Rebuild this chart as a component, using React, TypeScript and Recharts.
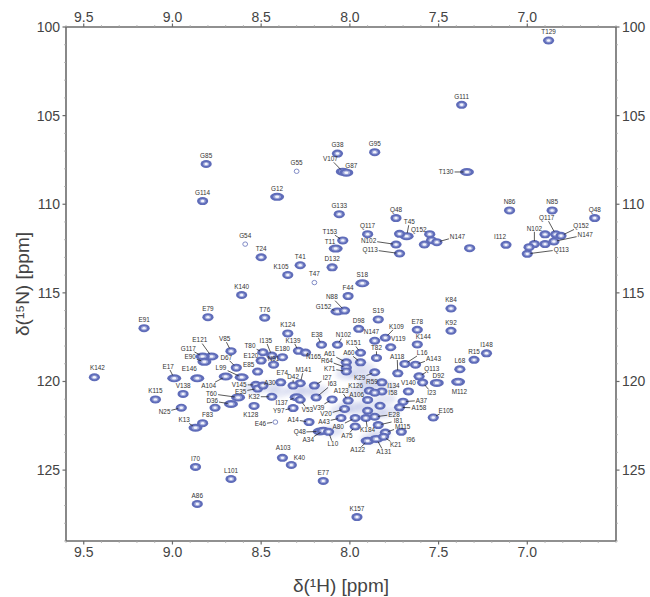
import * as React from "react";
import { ScatterChart, Scatter, XAxis, YAxis } from "recharts";

type Peak = [string, number, number];

const xMajor = [9.5, 9, 8.5, 8, 7.5, 7];
const xTicks = [9.6, 9.5, 9.4, 9.3, 9.2, 9.1, 9, 8.9, 8.8, 8.7, 8.6, 8.5, 8.4, 8.3, 8.2, 8.1, 8, 7.9, 7.8, 7.7, 7.6, 7.5, 7.4, 7.3, 7.2, 7.1, 7, 6.9, 6.8, 6.7, 6.6, 6.5];
const yMajor = [100, 105, 110, 115, 120, 125];
const yTicks = [100, 101, 102, 103, 104, 105, 106, 107, 108, 109, 110, 111, 112, 113, 114, 115, 116, 117, 118, 119, 120, 121, 122, 123, 124, 125, 126, 127, 128, 129];

// [assignment, 1H ppm, 15N ppm]; "#x" tells apart repeated names, "?" has no label
const upperPeaks: Peak[] = [
  ["T129", 6.88, 100.76], ["G111", 7.37, 104.39], ["G85", 8.81, 107.73], ["G114", 8.83, 109.82],
  ["G38", 8.07, 107.14], ["G95", 7.86, 107.06], ["G55", 8.3, 108.14], ["V107", 8.04, 108.16],
  ["G87", 8.02, 108.22], ["T130", 7.34, 108.18], ["G12", 8.41, 109.58], ["G133", 8.06, 110.56],
  ["Q48#a", 7.74, 110.78], ["T45", 7.68, 111.8], ["?1", 7.72, 111.67], ["Q117#a", 7.9, 111.69],
  ["Q152#a", 7.55, 111.69], ["T153", 8.04, 112.04], ["T11", 8.08, 112.5], ["N102#a", 7.74, 112.27],
  ["Q113#a", 7.72, 112.78], ["?2", 7.54, 112.03], ["N147#a", 7.51, 112.14], ["?3", 7.58, 112.27],
  ["?4", 7.325, 112.48], ["G54", 8.59, 112.25], ["T24", 8.5, 112.99], ["T41", 8.28, 113.44],
  ["D132", 8.1, 113.56], ["K105", 8.35, 113.99], ["T47", 8.2, 114.42], ["S18", 7.93, 114.46],
  ["F44", 8.01, 115.18], ["K140", 8.61, 115.12],
];

const sidechainPeaks: Peak[] = [
  ["N86", 7.1, 110.35], ["N85", 6.86, 110.35], ["Q48#b", 6.62, 110.78], ["I112", 7.12, 112.29],
  ["N102#b", 6.96, 112.25], ["Q117#b", 6.84, 111.7], ["?5", 6.9, 111.7], ["Q152#b", 6.81, 111.78],
  ["N147#b", 6.85, 112.1], ["?6", 6.9, 112.25], ["?7", 6.99, 112.42], ["Q113#b", 7.0, 112.8],
];

const leftPeaks: Peak[] = [
  ["E91", 9.16, 116.99], ["E79", 8.8, 116.37], ["K142", 9.44, 119.76], ["E17", 8.99, 119.82],
  ["E146", 8.86, 119.82], ["K115", 9.096, 121.01], ["V138", 8.94, 120.7], ["N25", 8.95, 121.48],
  ["K13", 8.87, 122.61], ["F83", 8.83, 122.35], ["E121", 8.78, 118.59], ["G117", 8.83, 118.59],
  ["E90", 8.82, 118.89], ["V85", 8.67, 118.29], ["D67", 8.64, 119.22], ["A104", 8.7, 119.72],
  ["L99", 8.61, 119.76], ["V145", 8.53, 120.19], ["D36", 8.67, 121.27], ["T60", 8.63, 120.9],
  ["?8", 8.76, 121.48], ["E35", 8.52, 120.4], ["K32", 8.44, 120.86], ["K128", 8.54, 121.38],
  ["E85", 8.52, 119.44], ["T76", 8.48, 116.4], ["K124", 8.35, 117.29], ["K139", 8.29, 118.27],
  ["N165", 8.25, 118.37], ["T80", 8.49, 118.35], ["I135", 8.44, 118.54], ["E120", 8.5, 118.82],
  ["E180", 8.38, 118.63], ["N91", 8.43, 119.05], ["M141", 8.28, 120.1], ["E74", 8.39, 120.05],
  ["D42", 8.32, 120.23], ["A30", 8.49, 120.23], ["I137", 8.3, 120.89], ["V53", 8.28, 121.03],
  ["Y97", 8.32, 121.5], ["E46", 8.42, 122.29],
];

const centralPeaks: Peak[] = [
  ["G152", 8.07, 116.05], ["N88", 8.03, 116.0], ["D98", 7.95, 117.03], ["E38", 8.16, 117.93],
  ["N102#c", 8.07, 117.93], ["K151", 7.94, 118.38], ["A61", 8.02, 118.92], ["A60", 7.94, 118.92],
  ["R64", 8.02, 119.22], ["K71", 8.02, 119.43], ["I27", 8.2, 120.23], ["I63", 8.19, 120.9],
  ["A123", 8.01, 121.08], ["V39", 8.1, 121.01], ["V20", 8.03, 121.55], ["A43", 8.05, 122.06],
  ["A14", 8.23, 122.29], ["A80", 7.97, 122.06], ["A75", 7.97, 122.54], ["Q48#c", 8.17, 122.82],
  ["A34", 8.15, 122.78], ["L10", 8.12, 122.84], ["K184", 7.91, 122.06], ["A122", 7.9, 123.35],
  ["A131", 7.85, 123.24], ["K29", 7.86, 119.48], ["T82", 7.85, 118.67], ["S19", 7.84, 116.5],
  ["K109", 7.8, 117.53], ["N147#c", 7.86, 117.7], ["V119", 7.77, 118.07], ["I134", 7.82, 120.05],
  ["I58", 7.82, 120.56], ["R59", 7.89, 120.52], ["K126", 7.86, 120.63], ["A106", 7.9, 121.04],
  ["?9", 7.83, 121.37], ["?10", 7.9, 121.65], ["E28", 7.86, 121.99], ["I81", 7.84, 122.46],
  ["M115", 7.8, 122.88], ["K21", 7.81, 123.12],
];

const rightPeaks: Peak[] = [
  ["E78", 7.62, 117.08], ["K92", 7.43, 117.14], ["K84", 7.43, 115.88], ["K144", 7.62, 117.91],
  ["I148", 7.23, 118.41], ["R15", 7.3, 118.78], ["L68", 7.38, 119.31], ["A118", 7.73, 119.54],
  ["L16", 7.69, 119.01], ["A143", 7.63, 119.05], ["Q113#c", 7.61, 119.71], ["I23", 7.59, 120.06],
  ["D92", 7.51, 120.08], ["M112", 7.39, 120.02], ["V140", 7.67, 120.56], ["A37", 7.7, 121.14],
  ["A158", 7.72, 121.46], ["E105", 7.53, 122.03], ["I96", 7.71, 122.84],
];

const lowerPeaks: Peak[] = [
  ["A103", 8.38, 124.31], ["K40", 8.33, 124.71], ["I70", 8.87, 124.82], ["L101", 8.67, 125.5],
  ["A86", 8.86, 126.91], ["E77", 8.15, 125.61], ["K157", 7.96, 127.65],
];

// unresolved intensity under the crowded middle of the spectrum
const overlapH = [8.02, 7.95, 7.92, 8.0, 7.88, 7.95, 7.9, 7.85, 7.95, 8.0, 7.8, 7.78, 8.3, 8.25, 8.4, 8.18, 8.45, 8.54, 8.1, 8.05, 7.83, 7.88, 7.9, 7.8];
const overlapN = [119.6, 119.6, 119.2, 118.9, 120.0, 120.6, 121.3, 121.8, 121.6, 121.4, 121.0, 121.7, 120.5, 120.6, 120.6, 120.5, 120.3, 120.4, 122.8, 121.6, 123.0, 123.2, 120.2, 120.3];

const broadPeaks = ["E146", "E17", "A104", "L99", "S18", "T11", "M112", "D92", "Q48#c", "A34", "G152", "T60", "D36", "G12", "T130", "I137", "T45", "E121", "G117", "E90", "V107", "G87", "A122", "A131", "K13"];
const weakPeaks = ["G55", "G54", "T47", "E46"];

// label position relative to its peak, in pixels: [dx, dy, leader line]
const labelLayout: Record<string, [number, number, boolean?]> = {
  K142: [3, -9], E17: [-6, -11.7, true], E146: [-8, -9.4], N25: [-16.7, 4.3, true], K13: [-11.3, -7.7, true],
  F83: [5, -8], E121: [-11.7, -16.3, true], G117: [-14.3, -8, true], E90: [-14.3, -4.6, true], V85: [-6.3, -12.4, true],
  D67: [-10, -10.3, true], L99: [-20.7, -9.7, true], A104: [-17, 9, true], V145: [-16.7, 0, true], E35: [-17, 3, true],
  T60: [-26.7, -3.7, true], D36: [-18.7, -3, true], K32: [-17.7, 0, true], K128: [-3.3, 8.4], E85: [-9, -7],
  T80: [-13, -6, true], E120: [-10.3, -5, true], N91: [0, -6], N165: [8, 4, true], K139: [-5.4, -10.3, true],
  I135: [-6, -15, true], G152: [-14, -5, true], E38: [-4.6, -10.3, true], "N102#c": [6, -9.6, true], K151: [-7, -9.6, true],
  A61: [-16.7, -8.4, true], A60: [-11.7, -9.4, true], R64: [-19.4, -7, true], K71: [-16.7, -2.7, true], M141: [3.3, -13.4, true],
  E74: [1.6, -9.4], D42: [0, -9, true], I27: [12.7, -7.7, true], I63: [16, -13.4, true], A30: [7, -3],
  A123: [-7, -10, true], V53: [7.3, 10, true], I137: [-15, 5.5, true], Y97: [-14.3, 3, true], V39: [-13.5, 8, true],
  V20: [-18.5, 5.3, true], A43: [-17, 3.8, true], A14: [-16, -2.6, true], A80: [-17, 8.4, true], A75: [-8.3, 9.3, true],
  "Q48#c": [-20, 0.6, true], A34: [-15, 9.3, true], L10: [4.3, 12.3, true], K184: [1.7, 12.3, true], A122: [-10, 9.3, true],
  A131: [7.3, 13, true], K21: [12, 8, true], M115: [17.3, -6, true], I81: [20, -4.6, true], E28: [19.3, -2.3, true],
  I96: [9.4, 8.3], A158: [19.3, 0.6, true], A37: [18.4, -1.3, true], E105: [12.7, -7, true], I58: [11, 1.6],
  I134: [11.6, 3.6], M112: [1.3, 10.4], I23: [9, 10.3, true], D92: [1.6, -7.6], "Q113#c": [12.7, -7.4, true],
  A143: [18, -6.3, true], L16: [17.3, -11.3, true], A118: [-0.6, -16.7, true], K144: [6, -8], K109: [11, -11.3, true],
  "N147#c": [-3.3, -9.3], V119: [7.6, -8.4], T82: [0, -10, true], K29: [-15, 6, true], K126: [-19, -7], R59: [2.5, -8.5],
  A106: [-11, -5], A103: [0.7, -10.3], K40: [8, -7], K105: [-6.7, -8], G87: [5, -7], V107: [-12.3, -12.7, true],
  T130: [-21, 0, true], T45: [2.7, -14.3, true], "Q152#a": [-11, -4.3], "N102#a": [-27.4, -4, true], "Q113#a": [-29.4, -4, true],
  "N147#a": [20.7, -5.7, true], T153: [-13, -8.6, true], T11: [-5.7, -6.6], N88: [-12.7, -13.3, true], I112: [-6, -8],
  "N102#b": [0, -15.7, true], "Q117#b": [-9, -16.6, true], "Q152#b": [20, -9.7, true], "N147#b": [31.3, -6.6, true],
  "Q113#b": [34, -4.4, true], E46: [-15, 2, true],
};

const INK = "#6b6b6b";
const TEXT = "#444";
const FONT = "'Liberation Sans', Arial, sans-serif";

const toRows = (list: Peak[]) => list.map(([id, h, n]) => ({ id, h, n }));
const allPeaks = toRows([...upperPeaks, ...sidechainPeaks, ...leftPeaks, ...centralPeaks, ...rightPeaks, ...lowerPeaks]);
const overlap = overlapH.map((h, i) => ({ h, n: overlapN[i] }));

function PeakMark({ cx, cy, payload }: any) {
  if (weakPeaks.includes(payload.id)) {
    return <ellipse cx={cx} cy={cy} rx={2.4} ry={2.2} fill="#fff" stroke="#7f8ac6" strokeWidth={1} />;
  }
  const rx = broadPeaks.includes(payload.id) ? 7 : 5.6;
  return (
    <g style={{ filter: "blur(0.4px)" }}>
      <ellipse cx={cx} cy={cy} rx={rx} ry={4} fill="#5f6cb9" />
      <ellipse cx={cx} cy={cy} rx={rx * 0.55} ry={2.1} fill="#9fa8da" />
      <ellipse cx={cx} cy={cy} rx={rx * 0.3} ry={1.2} fill="#f4f5fc" />
    </g>
  );
}

function OverlapMark({ cx, cy }: any) {
  return <ellipse cx={cx} cy={cy} rx={11} ry={5.5} fill="#aab2df" opacity={0.32} style={{ filter: "blur(2px)" }} />;
}

function PeakLabel({ cx, cy, payload }: any) {
  if (payload.id.startsWith("?")) return <g />;
  const text = payload.id.split("#")[0];
  const [dx, dy, leader] = labelLayout[payload.id] ?? [0, -8.3];
  const lx = cx + dx;
  const ly = cy + dy;
  const halfW = text.length * 1.9 + 1;
  const scale = Math.min(halfW / Math.max(Math.abs(dx), 0.01), 3.4 / Math.max(Math.abs(dy), 0.01));
  const dist = Math.hypot(dx, dy) || 1;
  return (
    <g>
      {leader && <line x1={lx - dx * scale} y1={ly - dy * scale} x2={cx + (dx / dist) * 3.2} y2={cy + (dy / dist) * 3.2} stroke="#222" strokeWidth={0.75} />}
      <text x={lx} y={ly + 2.2} textAnchor="middle" fontSize={6.4} fontFamily={FONT} fill="#333">{text}</text>
    </g>
  );
}

function AxisTick({ x, y, payload, side }: any) {
  const v = payload.value;
  const major = side === "left" || side === "right" ? yMajor.includes(v) : xMajor.includes(v);
  const len = major ? 3.5 : 2;
  const stroke = major ? INK : "#aaa";
  const common = { fontSize: 14, fontFamily: FONT, fill: TEXT };
  if (side === "top" || side === "bottom") {
    const dir = side === "top" ? -1 : 1;
    return (
      <g>
        <line x1={x} x2={x} y1={y} y2={y + dir * len} stroke={stroke} strokeWidth={major ? 1.2 : 0.8} />
        {major && <text x={x} y={side === "top" ? y - 5 : y + 16} textAnchor="middle" {...common}>{v.toFixed(1)}</text>}
      </g>
    );
  }
  const dir = side === "left" ? -1 : 1;
  return (
    <g>
      <line x1={x} x2={x + dir * len} y1={y} y2={y} stroke={stroke} strokeWidth={major ? 1.2 : 0.8} />
      {major && <text x={side === "left" ? x - 6 : x + 6} y={y + 5} textAnchor={side === "left" ? "end" : "start"} {...common}>{v}</text>}
    </g>
  );
}

const axisCommon = { type: "number" as const, allowDataOverflow: true, interval: 0 as const, tickSize: 0, tickMargin: 0, tickLine: false, stroke: INK, strokeWidth: 1.6 };

export default function App() {
  return (
    <div style={{ position: "absolute", left: 0, top: 0, width: 650, height: 597, background: "#fff" }}>
      <ScatterChart width={650} height={597} margin={{ top: 0, right: 0, bottom: 0, left: 0 }}>
        <XAxis {...axisCommon} xAxisId="bottom" dataKey="h" orientation="bottom" height={56} domain={[6.5, 9.6]} reversed ticks={xTicks}
          tick={(p: any) => <AxisTick {...p} side="bottom" />}
          label={{ value: "δ(¹H) [ppm]", position: "insideBottom", offset: 5, fontSize: 19, fontFamily: FONT, fill: TEXT }} />
        <XAxis {...axisCommon} xAxisId="top" dataKey="h" orientation="top" height={27} domain={[6.5, 9.6]} reversed ticks={xTicks}
          tick={(p: any) => <AxisTick {...p} side="top" />} />
        <YAxis {...axisCommon} yAxisId="left" dataKey="n" orientation="left" width={66} domain={[100, 129]} reversed ticks={yTicks}
          tick={(p: any) => <AxisTick {...p} side="left" />}
          label={{ value: "δ(¹⁵N) [ppm]", angle: -90, position: "insideLeft", offset: 22, fontSize: 19, fontFamily: FONT, fill: TEXT, style: { textAnchor: "middle" } }} />
        <YAxis {...axisCommon} yAxisId="right" dataKey="n" orientation="right" width={34} domain={[100, 129]} reversed ticks={yTicks}
          tick={(p: any) => <AxisTick {...p} side="right" />} />
        <Scatter xAxisId="bottom" yAxisId="left" data={overlap} shape={OverlapMark} isAnimationActive={false} />
        <Scatter xAxisId="bottom" yAxisId="left" data={allPeaks} shape={PeakMark} isAnimationActive={false} />
        <Scatter xAxisId="bottom" yAxisId="left" data={allPeaks} shape={PeakLabel} isAnimationActive={false} />
      </ScatterChart>
    </div>
  );
}
